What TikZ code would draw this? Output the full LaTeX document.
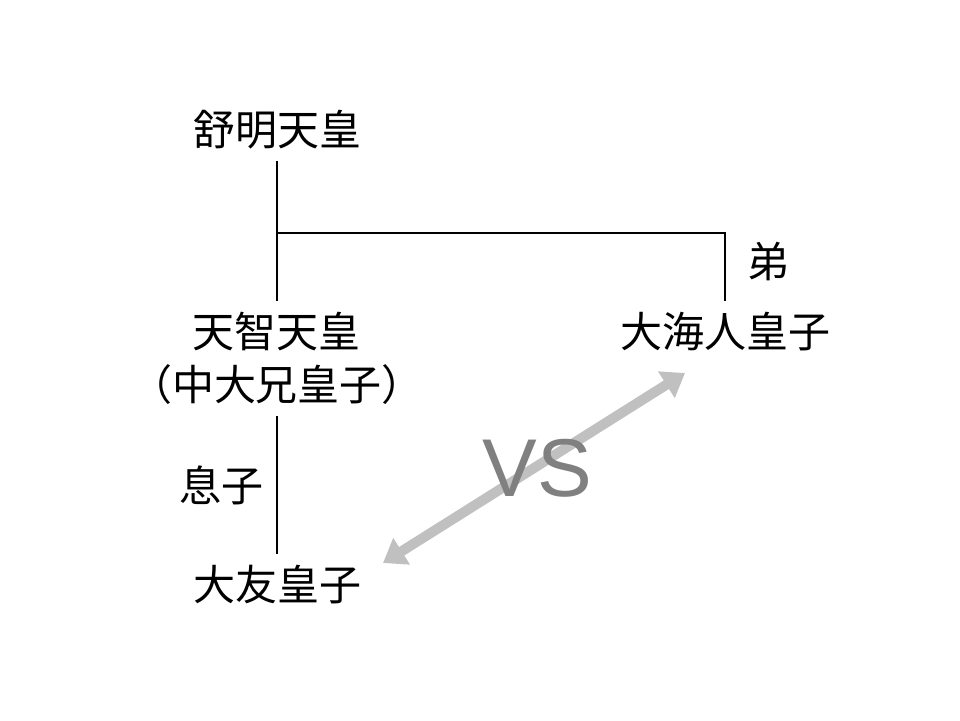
\documentclass[tikz,border=0pt]{standalone}
\usepackage{fontspec}
\newfontfamily\jpfont{Noto Sans CJK JP}
\newfontfamily\vsfont{Liberation Sans}
\usetikzlibrary{arrows.meta}
\definecolor{vsgray}{HTML}{808080}
\definecolor{arrowgray}{HTML}{C0C0C0}
\tikzset{
  person/.style={font=\jpfont\fontsize{21pt}{26.5pt}\selectfont, inner sep=5.5pt, align=center},
  relation/.style={font=\jpfont\fontsize{21pt}{26.5pt}\selectfont, inner sep=0pt},
  tree/.style={line width=0.9pt},
}
\begin{document}
\begin{tikzpicture}[x=0.5pt,y=-0.5pt]
    \useasboundingbox (0,0) rectangle (960,720);

    % People
    \node[person] (shumei) at (277,130) {舒明天皇};
    \node[person] (tenji) at (277,358.5) {天智天皇\\（中大兄皇子）};
    \node[person] (oama) at (725,332) {大海人皇子};
    \node[person] (otomo) at (277,585) {大友皇子};

    % Family lines
    \coordinate (branch) at (277,233);
    \draw[tree] (shumei.south) -- (tenji.north);
    \draw[tree] (branch) -| (oama.north);
    \draw[tree] (tenji.south) -- (otomo.north);

    % Labels
    \node[relation] at (768,262) {弟};
    \node[relation] at (221,485) {息子};

    % VS arrow
    \coordinate (vsA) at (383,563);
    \coordinate (vsB) at (685,373);
    \draw[arrowgray, line width=5pt, {Triangle[width=15pt,length=11pt]}-{Triangle[width=15pt,length=11pt]}] (vsA) -- (vsB);
    \node[font=\vsfont\fontsize{41pt}{41pt}\selectfont, text=vsgray] (vs) at (537,468) {VS};
\end{tikzpicture}
\end{document}
